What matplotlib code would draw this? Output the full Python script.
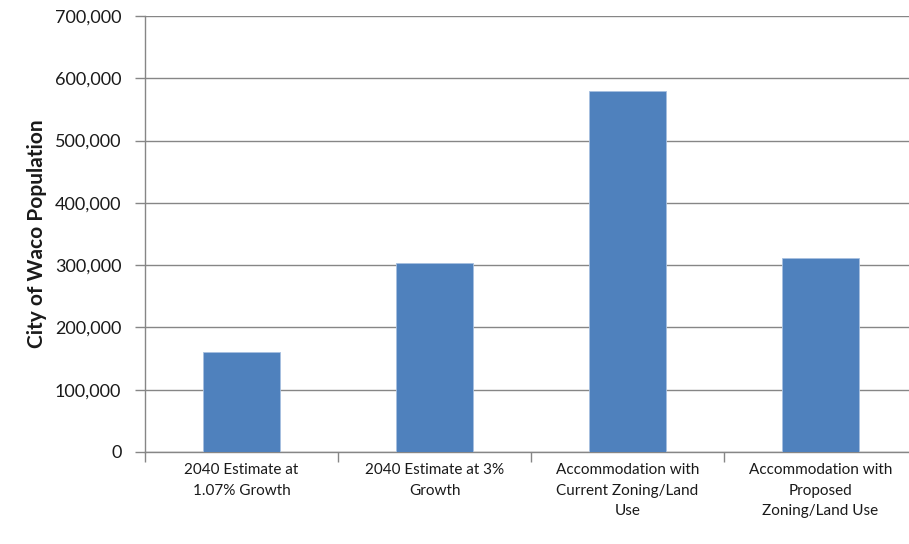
import numpy as np
import matplotlib
matplotlib.use("Agg")
import matplotlib.pyplot as plt
from matplotlib.ticker import FuncFormatter, MultipleLocator

categories = ["2040 Estimate at\n1.07% Growth",
              "2040 Estimate at 3%\nGrowth",
              "Accommodation with\nCurrent Zoning/Land\nUse",
              "Accommodation with\nProposed\nZoning/Land Use"]
population = [160000, 303000, 580000, 311000]

plt.rcParams['font.family'] = ['Lato', 'DejaVu Sans']

fig = plt.figure(figsize=(9.09, 5.44), dpi=100)
ax = fig.add_axes([145/909, 1 - 452/544, 772/909, 436/544])

x = np.arange(len(categories))
ax.bar(x, population, width=0.4, color='#4F81BD', edgecolor='#A7C0E0',
       linewidth=0.6, zorder=3)

ax.set_xlim(-0.5, len(categories) - 0.5)
ax.set_ylim(0, 700000)
ax.yaxis.set_major_locator(MultipleLocator(100000))
ax.yaxis.set_major_formatter(FuncFormatter(lambda v, p: f"{int(v):,}"))
ax.grid(axis='y', color='#868686', linewidth=1.0, zorder=0)

# category labels centred, tick marks between categories
ax.set_xticks(np.arange(len(categories) + 1) - 0.5)
ax.set_xticklabels([])
ax.set_xticks(x, minor=True)
ax.set_xticklabels(categories, minor=True, fontsize=11, color='#1a1a1a',
                   linespacing=1.6)
ax.tick_params(axis='x', which='minor', length=0, pad=8)
ax.tick_params(axis='x', which='major', length=7, color='#868686', width=1)
ax.tick_params(axis='y', length=7, color='#868686', width=1,
               labelsize=13, labelcolor='#1a1a1a', pad=10)

for s in ['top', 'right']:
    ax.spines[s].set_visible(False)
for s in ['left', 'bottom']:
    ax.spines[s].set_color('#868686')
    ax.spines[s].set_linewidth(1.0)

ax.set_ylabel("City of Waco Population", fontsize=15, fontweight='bold',
              color='#1a1a1a', labelpad=6)

fig.savefig("out.png", dpi=100)
